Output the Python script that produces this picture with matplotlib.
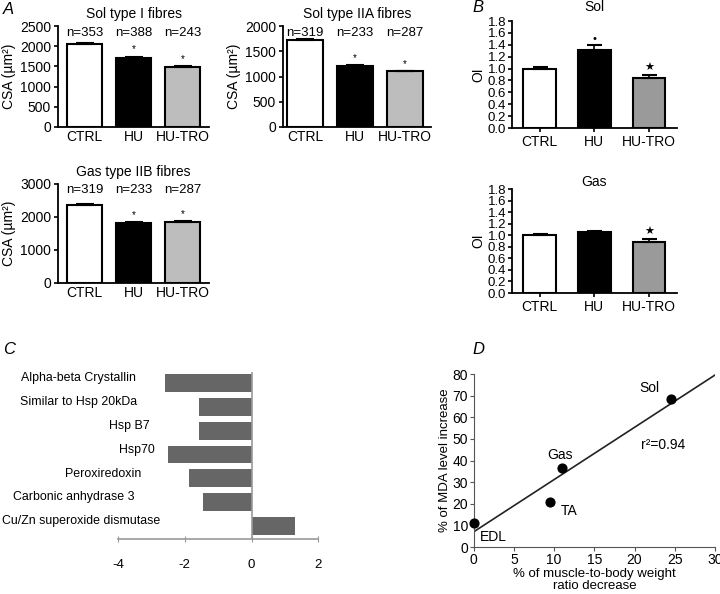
import matplotlib.pyplot as plt
import numpy as np

plt.rcParams['font.family'] = ['Liberation Sans', 'DejaVu Sans']
plt.rcParams['axes.unicode_minus'] = False

groups = ['CTRL', 'HU', 'HU-TRO']

# panel A: fibre cross-sectional area
sol1_csa = [2050, 1720, 1490]
sol1_err = [25, 25, 20]
sol1_n = ['n=353', 'n=388', 'n=243']
sol2a_csa = [1720, 1210, 1100]
sol2a_err = [20, 20, 15]
sol2a_n = ['n=319', 'n=233', 'n=287']
gas2b_csa = [2370, 1820, 1860]
gas2b_err = [25, 20, 15]
gas2b_n = ['n=319', 'n=233', 'n=287']
csa_marks = ['', '*', '*']

# panel B: oxidation index
sol_oi = [1.00, 1.32, 0.84]
sol_oi_err = [0.03, 0.07, 0.05]
sol_marks = ['', '•', '★']
gas_oi = [1.00, 1.05, 0.88]
gas_oi_err = [0.02, 0.03, 0.05]
gas_marks = ['', '', '★']

# panel C: protein fold change
proteins = ['Alpha-beta Crystallin', 'Similar to Hsp 20kDa', 'Hsp B7', 'Hsp70',
            'Peroxiredoxin', 'Carbonic anhydrase 3', 'Cu/Zn superoxide dismutase']
fold = [-2.6, -1.58, -1.58, -2.5, -1.88, -1.44, 1.3]

# panel D: correlation
muscles = ['EDL', 'TA', 'Gas', 'Sol']
weight_dec = [0, 9.5, 11, 24.5]
mda_inc = [11, 21, 36.5, 68.5]

fig = plt.figure(figsize=(7.2, 5.94), dpi=100)
x = np.arange(len(groups))


def bar_panel(rect, vals, errs, tro_color, ymax, step, fs, width, xlim):
    ax = fig.add_axes(rect)
    ax.bar(x, vals, width=width, color=['white', 'black', tro_color],
           edgecolor='black', linewidth=1.5, zorder=2)
    ax.errorbar(x, vals, yerr=[[0] * 3, errs], fmt='none', ecolor='black',
                elinewidth=1.2, capsize=width * 9, capthick=1.5, zorder=3)
    ax.set_xlim(*xlim)
    ax.set_ylim(0, ymax)
    ax.set_yticks(np.arange(0, ymax + step / 2, step))
    ax.set_xticks(x)
    ax.set_xticklabels(groups)
    for s in ['top', 'right']:
        ax.spines[s].set_visible(False)
    for s in ['left', 'bottom']:
        ax.spines[s].set_linewidth(1.3)
    ax.tick_params(axis='y', labelsize=fs, length=3, width=1.2, pad=2)
    ax.tick_params(axis='x', labelsize=fs, length=0, pad=2)
    return ax


# ---- A
a_specs = [
    ([0.0806, 0.7862, 0.2097, 0.170], (-0.54, 2.54), 'Sol type I fibres',
     sol1_csa, sol1_err, sol1_n, 2500, 500),
    ([0.393, 0.7862, 0.2056, 0.170], (-0.44, 2.52), 'Sol type IIA fibres',
     sol2a_csa, sol2a_err, sol2a_n, 2000, 500),
    ([0.0806, 0.5236, 0.2097, 0.1667], (-0.54, 2.54), 'Gas type IIB fibres',
     gas2b_csa, gas2b_err, gas2b_n, 3000, 1000),
]
for rect, xlim, title, vals, errs, ns, ymax, step in a_specs:
    ax = bar_panel(rect, vals, errs, '#bdbdbd', ymax, step, 10, 0.73, xlim)
    ax.set_title(title, fontsize=10, pad=6)
    ax.set_ylabel('CSA (µm²)', fontsize=10, labelpad=3)
    for i in range(3):
        ax.text(x[i], 0.935, ns[i], transform=ax.get_xaxis_transform(),
                ha='center', va='center', fontsize=9.5)
        if csa_marks[i]:
            ax.text(x[i], vals[i] + errs[i] + 0.07 * ymax, csa_marks[i],
                    ha='center', va='center', fontsize=7)

# ---- B
b_specs = [
    ([0.711, 0.7845, 0.229, 0.180], 'Sol', sol_oi, sol_oi_err, sol_marks, 7),
    ([0.711, 0.5067, 0.229, 0.175], 'Gas', gas_oi, gas_oi_err, gas_marks, -6),
]
for rect, title, vals, errs, marks, tpad in b_specs:
    ax = bar_panel(rect, vals, errs, '#9a9a9a', 1.8, 0.2, 9.5, 0.6, (-0.51, 2.51))
    ax.set_yticks(np.arange(0, 1.85, 0.2))
    ax.set_yticklabels([f'{v:.1f}' for v in np.arange(0, 1.85, 0.2)])
    ax.tick_params(axis='x', length=3, width=1.2, labelsize=10)
    ax.tick_params(axis='y', labelsize=9.5, pad=1)
    ax.set_title(title, fontsize=10, pad=tpad)
    ax.set_ylabel('OI', fontsize=10, labelpad=2)
    for i in range(3):
        if marks[i] == '•':
            ax.text(x[i], vals[i] + errs[i] + 0.11, marks[i], ha='center',
                    va='center', fontsize=8)
        elif marks[i]:
            ax.text(x[i], vals[i] + errs[i] + 0.12, marks[i], ha='center',
                    va='center', fontsize=8, family='DejaVu Sans')

# ---- C
axc = fig.add_axes([0.164, 0.0926, 0.278, 0.281])
yc = np.arange(len(proteins))
axc.barh(yc, fold, height=0.75, color='#666666', zorder=2)
axc.axvline(0, color='#999999', linewidth=1.2, zorder=3)
axc.set_xlim(-4, 2)
axc.set_ylim(6.55, -0.46)
axc.set_xticks([-4, -2, 0, 2])
axc.set_yticks([])
for s in ['top', 'right', 'left']:
    axc.spines[s].set_visible(False)
axc.spines['bottom'].set_color('#999999')
axc.spines['bottom'].set_linewidth(1.2)
axc.tick_params(axis='x', direction='inout', length=5, color='#999999',
                labelsize=9.5, pad=12)
label_x = [0.09, 0.095, 0.16, 0.185, 0.115, 0.08, 0.21]
for i, name in enumerate(proteins):
    axc.text(label_x[i], i - 0.2, name, transform=axc.get_yaxis_transform(),
             ha='right', va='center', fontsize=8.9)

# ---- D
axd = fig.add_axes([0.658, 0.0791, 0.335, 0.291])
slope, intercept = np.polyfit(weight_dec, mda_inc, 1)
xl = np.array([0, 30])
axd.plot(xl, slope * xl + intercept, color='#222222', linewidth=1.2, zorder=2)
axd.scatter(weight_dec, mda_inc, s=40, color='black', zorder=3, clip_on=False)
axd.set_xlim(0, 30)
axd.set_ylim(0, 80)
axd.set_xticks(np.arange(0, 31, 5))
axd.set_yticks(np.arange(0, 81, 10))
for s in ['top', 'right']:
    axd.spines[s].set_visible(False)
for s in ['left', 'bottom']:
    axd.spines[s].set_color('#555555')
axd.tick_params(labelsize=10, length=3, color='#555555', pad=1)
axd.set_xlabel('% of muscle-to-body weight\nratio decrease', fontsize=9.5,
               labelpad=1, linespacing=1.05)
axd.set_ylabel('% of MDA level increase', fontsize=9.5, labelpad=1)
label_pos = {'EDL': (0.8, 4.5), 'TA': (10.8, 16.5), 'Gas': (9.2, 42.5), 'Sol': (20.6, 73.5)}
for m in muscles:
    axd.text(*label_pos[m], m, fontsize=10, ha='left', va='center')
axd.text(20.8, 47, 'r²=0.94', fontsize=10, ha='left', va='center')

# panel letters
for letter, px, py in [('A', 3, 10), ('B', 472, 8), ('C', 3, 350), ('D', 472, 350)]:
    fig.text(px / 720, 1 - py / 594, letter, fontsize=12, style='italic',
             ha='left', va='center')

fig.savefig('out.png', dpi=100)
